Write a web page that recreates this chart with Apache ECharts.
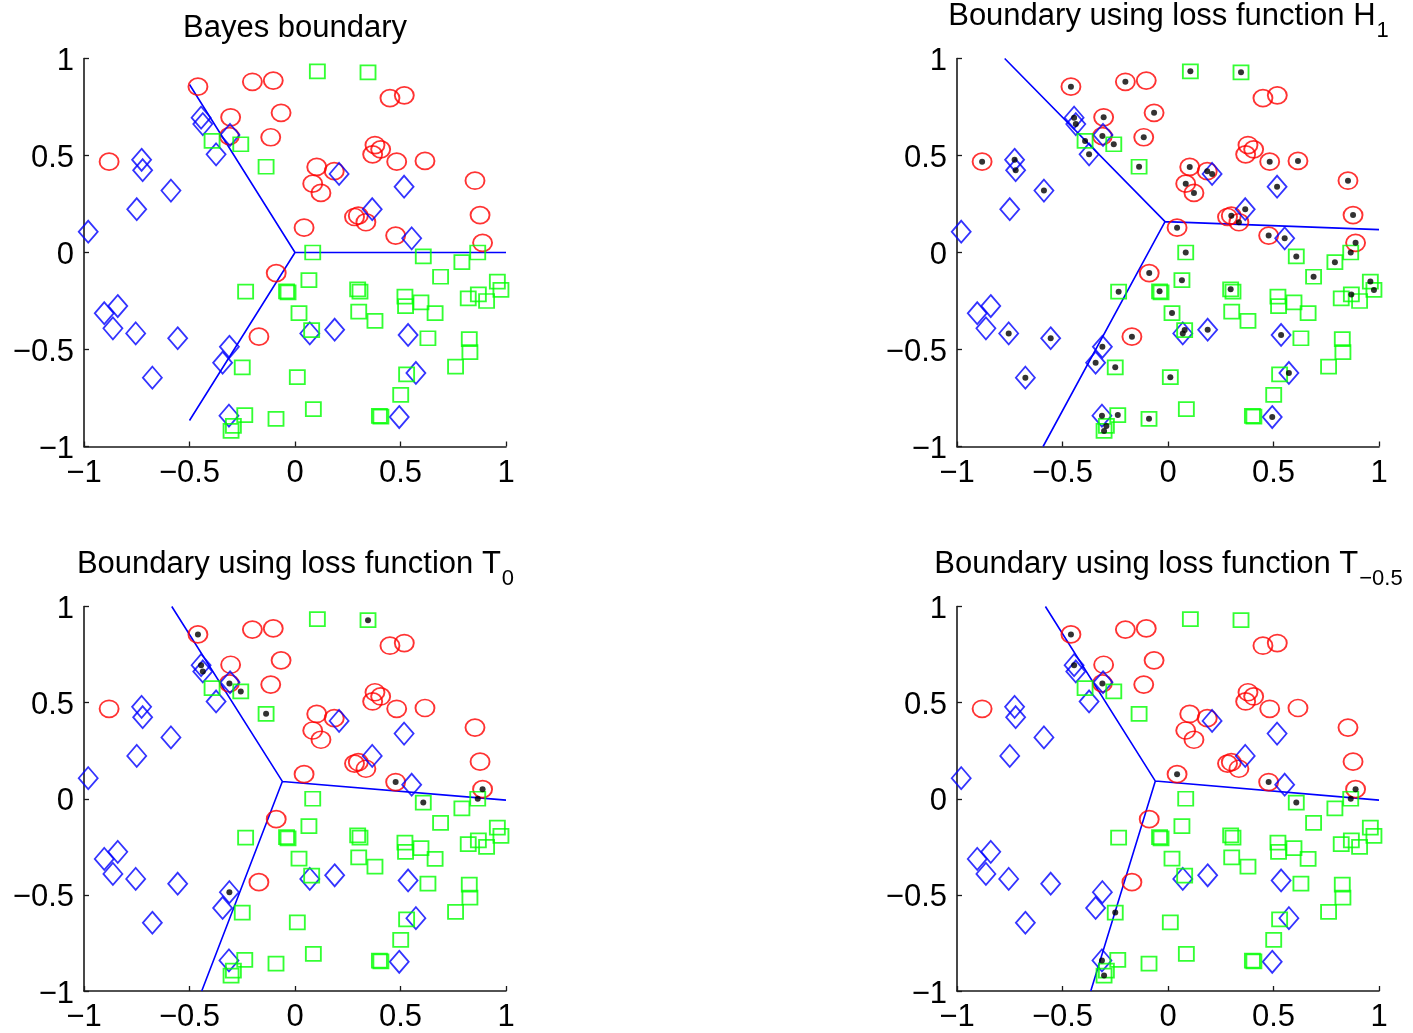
<!DOCTYPE html>
<html><head><meta charset="utf-8">
<script src="https://cdn.jsdelivr.net/npm/echarts@6/dist/echarts.min.js"></script>
<style>html,body{margin:0;padding:0;background:#fff}#c{width:1413px;height:1033px}</style>
</head><body><div id="c"></div><script>
// ---------- data ----------
const redPts = [
 [-0.460,0.855],[-0.202,0.880],[-0.103,0.886],[-0.066,0.720],[-0.305,0.697],[-0.311,0.600],
 [-0.115,0.594],[-0.881,0.468],[0.450,0.796],[0.518,0.810],[0.379,0.554],[0.406,0.532],
 [0.368,0.506],[0.482,0.468],[0.616,0.472],[0.103,0.441],[0.186,0.419],[0.084,0.355],
 [0.123,0.307],[0.853,0.370],[0.877,0.193],[0.282,0.183],[0.300,0.190],[0.336,0.156],
 [0.043,0.128],[0.477,0.087],[0.889,0.050],[-0.089,-0.106],[-0.171,-0.434]
];
const bluePts = [
 [-0.445,0.695],[-0.437,0.662],[-0.308,0.606],[-0.374,0.506],[-0.727,0.478],[-0.722,0.424],
 [-0.588,0.319],[-0.750,0.223],[-0.980,0.107],[0.209,0.405],[0.517,0.339],[0.366,0.223],
 [0.553,0.073],[-0.904,-0.313],[-0.840,-0.276],[-0.863,-0.391],[-0.755,-0.417],[-0.556,-0.442],
 [-0.676,-0.645],[-0.311,-0.486],[-0.343,-0.568],[-0.313,-0.841],[0.070,-0.417],[0.188,-0.398],
 [0.536,-0.425],[0.573,-0.621],[0.494,-0.848]
];
const greenPts = [
 [-0.393,0.575],[-0.257,0.558],[-0.137,0.442],[0.106,0.934],[0.346,0.929],[0.084,0.000],
 [0.608,-0.020],[0.866,0.000],[0.791,-0.050],[0.690,-0.125],[0.066,-0.143],[-0.234,-0.202],
 [-0.040,-0.200],[-0.033,-0.206],[0.297,-0.190],[0.308,-0.202],[0.521,-0.228],[0.524,-0.276],
 [0.597,-0.257],[0.664,-0.313],[0.959,-0.150],[0.976,-0.193],[0.869,-0.216],[0.821,-0.236],
 [0.908,-0.250],[0.019,-0.312],[0.302,-0.305],[0.379,-0.353],[0.079,-0.400],[0.630,-0.442],
 [0.826,-0.447],[0.829,-0.514],[0.761,-0.588],[0.529,-0.628],[0.011,-0.643],[0.501,-0.734],
 [0.087,-0.807],[0.400,-0.842],[0.407,-0.846],[-0.250,-0.592],[-0.238,-0.838],[-0.090,-0.857],
 [-0.292,-0.894],[-0.303,-0.920]
];
const tickValues = [-1, -0.5, 0, 0.5, 1];

// boundaries: a vertex and three end points
const bayesVertex = [0, 0];
const bayesEnds = [[-0.5, 0.866], [1, 0], [-0.5, -0.866]];
const h1Vertex = [-0.014, 0.159];
const h1Ends = [[-0.774, 1.0], [1.0, 0.118], [-0.592, -1.0]];
const t0Vertex = [-0.060, 0.090];
const t0Ends = [[-0.584, 1.0], [1.0, -0.007], [-0.442, -1.0]];
const tm05Vertex = [-0.060, 0.092];
const tm05Ends = [[-0.581, 1.0], [1.0, -0.007], [-0.366, -1.0]];

// marked points (black dots) per panel
const bayesDots = [];
const h1Dots = ['r0','r1','r3','r4','r5','r6','r7','r13','r14','r15','r16','r17','r18','r19','r20','r22','r23','r24','r25','r26','r27','r28',
 'b0','b1','b3','b4','b5','b6','b9','b10','b11','b12','b16','b17','b18','b19','b20','b21','b22','b23','b24','b25','b26',
 'g0','g1','g2','g3','g4','g5','g6','g7','g8','g9','g10','g11','g12','g14','g20','g21','g22','g25','g28','g34','g39','g40','g41','g42','g43'];
const t0Dots = ['r0','r5','r25','r26','b0','b1','b19','g1','g2','g4','g6','g7'];
const tm05Dots = ['r0','r5','r24','r25','r26','b0','b21','g6','g7','g39','g43'];

const titleMain = ['Bayes boundary', 'Boundary using loss function H', 'Boundary using loss function T', 'Boundary using loss function T'];
const titleSub = ['', '1', '0', '\u22120.5'];

// ---------- layout ----------
const FONT = '"Liberation Sans", Arial, Helvetica, sans-serif';
const FS = 31, SFS = 22;
const layout = [
  {left: 84, top: 58.5, cx: 295, ty: 28},
  {left: 957, top: 58.5, cx: 1168, ty: 16},
  {left: 84, top: 606.5, cx: 295, ty: 564},
  {left: 957, top: 606.5, cx: 1168, ty: 564}
];
const panels = [
  {vertex: bayesVertex, ends: bayesEnds, dots: bayesDots},
  {vertex: h1Vertex, ends: h1Ends, dots: h1Dots},
  {vertex: t0Vertex, ends: t0Ends, dots: t0Dots},
  {vertex: tm05Vertex, ends: tm05Ends, dots: tm05Dots}
];
const groups = {r: redPts, b: bluePts, g: greenPts};
const pick = ids => ids.map(id => groups[id[0]][+id.slice(1)]);
const fmt = v => (v < 0 ? '\u2212' + Math.abs(v) : String(v));

const ctx = document.createElement('canvas').getContext('2d');
function tw(t, fs) { ctx.font = fs + 'px ' + FONT; return ctx.measureText(t).width; }

const grid = [], xAxis = [], yAxis = [], series = [], graphic = [];
layout.forEach((L, i) => {
  grid.push({left: L.left, top: L.top, width: 422, height: 388, containLabel: false});
  const axisCommon = {
    type: 'value', gridIndex: i, min: -1, max: 1, interval: 0.5,
    axisLine: {show: true, onZero: false, lineStyle: {color: '#1a1a1a', width: 1.6}},
    axisTick: {show: true, inside: true, length: 5, lineStyle: {color: '#1a1a1a', width: 1.3}},
    splitLine: {show: false},
    axisLabel: {show: true, fontSize: FS, fontFamily: FONT, color: '#000', formatter: fmt, showMinLabel: true, showMaxLabel: true}
  };
  xAxis.push(Object.assign({}, axisCommon, {axisLabel: Object.assign({}, axisCommon.axisLabel, {margin: 11})}));
  yAxis.push(Object.assign({}, axisCommon, {axisLabel: Object.assign({}, axisCommon.axisLabel, {margin: 10, verticalAlign: 'top', lineHeight: 6})}));
  const P = panels[i];
  series.push({type: 'line', xAxisIndex: i, yAxisIndex: i, showSymbol: false, symbol: 'none', silent: true,
    lineStyle: {color: '#0000ff', width: 1.6}, z: 2,
    data: [P.ends[0], P.vertex, P.ends[2], P.vertex, P.ends[1]]});
  series.push({type: 'scatter', xAxisIndex: i, yAxisIndex: i, symbol: 'circle', symbolSize: [19, 17], silent: true, z: 3,
    itemStyle: {color: 'rgba(0,0,0,0)', borderColor: '#ff0000', borderWidth: 1.8}, data: redPts});
  series.push({type: 'scatter', xAxisIndex: i, yAxisIndex: i, symbol: 'diamond', symbolSize: [19, 22], silent: true, z: 3,
    itemStyle: {color: 'rgba(0,0,0,0)', borderColor: '#0000ff', borderWidth: 1.8}, data: bluePts});
  series.push({type: 'scatter', xAxisIndex: i, yAxisIndex: i, symbol: 'rect', symbolSize: [15, 14], silent: true, z: 3,
    itemStyle: {color: 'rgba(0,0,0,0)', borderColor: '#00ff00', borderWidth: 1.8}, data: greenPts});
  series.push({type: 'scatter', xAxisIndex: i, yAxisIndex: i, symbol: 'circle', symbolSize: 6, silent: true, z: 4,
    itemStyle: {color: '#000'}, data: pick(P.dots)});
  // titles
  const main = titleMain[i], sub = titleSub[i];
  const w1 = tw(main, FS), w2 = sub ? tw(sub, SFS) : 0;
  const x0 = L.cx - (w1 + w2) / 2;
  graphic.push({type: 'text', x: x0, y: L.ty, silent: true,
    style: {text: main, font: FS + 'px ' + FONT, fill: '#000', textAlign: 'left', textVerticalAlign: 'middle'}});
  if (sub) graphic.push({type: 'text', x: x0 + w1 + 1, y: L.ty + 15, silent: true,
    style: {text: sub, font: SFS + 'px ' + FONT, fill: '#000', textAlign: 'left', textVerticalAlign: 'middle'}});
});

const chart = echarts.init(document.getElementById('c'), null, {renderer: 'canvas'});
chart.setOption({animation: false, backgroundColor: '#fff', grid, xAxis, yAxis, series, graphic});
</script></body></html>
